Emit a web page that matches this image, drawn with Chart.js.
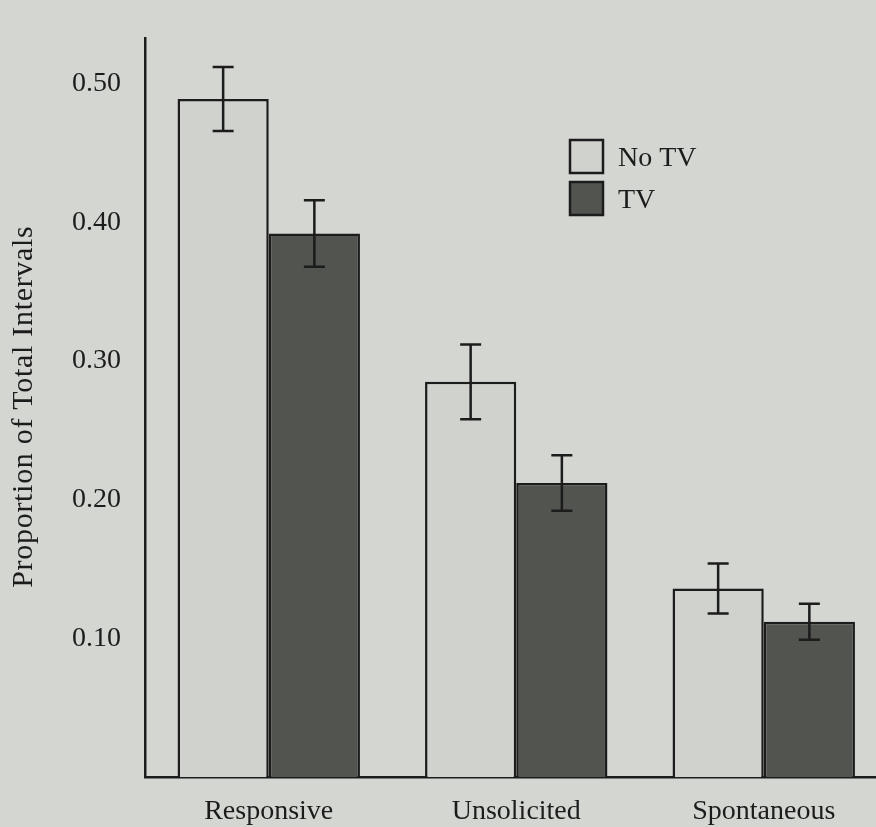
<!DOCTYPE html>
<html>
<head>
<meta charset="utf-8">
<script src="https://cdn.jsdelivr.net/npm/chart.js@4/dist/chart.umd.min.js"></script>
<style>
  html, body { margin: 0; padding: 0; background: #d4d6d2; }
  #wrap { width: 876px; height: 827px; overflow: hidden; position: relative; }
  #chart { display: block; }
</style>
</head>
<body>
<div id="wrap"><canvas id="chart" width="890" height="827"></canvas></div>
<script>
// Proportion of total intervals by utterance type, with and without TV
const categories = ['Responsive', 'Unsolicited', 'Spontaneous'];
const seriesNames = ['No TV', 'TV'];
const noTvValues = [0.489, 0.285, 0.136];
const tvValues = [0.392, 0.212, 0.112];
const noTvErrors = [0.023, 0.027, 0.018];
const tvErrors = [0.024, 0.020, 0.013];
const yTickValues = [0.10, 0.20, 0.30, 0.40, 0.50];
const yTitle = 'Proportion of Total Intervals';
const yMax = 0.533;

const BG = '#d4d6d2';
const INK = '#1c1c1c';
const SERIF = '"Liberation Serif", "DejaVu Serif", serif';

// Draws the page background inside the canvas
const backgroundPlugin = {
  id: 'bg',
  beforeDraw(chart) {
    const { ctx, width, height } = chart;
    ctx.save();
    ctx.fillStyle = BG;
    ctx.fillRect(0, 0, width, height);
    ctx.restore();
  }
};

// Capped error bars centred on each bar, from the error arrays
const errorBarPlugin = {
  id: 'errorBars',
  afterDatasetsDraw(chart) {
    const { ctx } = chart;
    const y = chart.scales.y;
    ctx.save();
    ctx.strokeStyle = INK;
    ctx.lineWidth = 2.5;
    chart.data.datasets.forEach((ds, di) => {
      const meta = chart.getDatasetMeta(di);
      meta.data.forEach((bar, i) => {
        const v = ds.data[i];
        const e = ds.errors[i];
        const top = y.getPixelForValue(v + e);
        const bot = y.getPixelForValue(v - e);
        const half = 10.5;
        ctx.beginPath();
        ctx.moveTo(bar.x, top); ctx.lineTo(bar.x, bot);
        ctx.moveTo(bar.x - half, top); ctx.lineTo(bar.x + half, top);
        ctx.moveTo(bar.x - half, bot); ctx.lineTo(bar.x + half, bot);
        ctx.stroke();
      });
    });
    ctx.restore();
  }
};

// Boxed legend placed inside the plot area
const boxLegendPlugin = {
  id: 'boxLegend',
  afterDraw(chart, args, opts) {
    const { ctx } = chart;
    ctx.save();
    ctx.font = '28px ' + SERIF;
    ctx.textBaseline = 'alphabetic';
    chart.data.datasets.forEach((ds, i) => {
      const bx = opts.x, by = opts.y + i * opts.rowGap;
      ctx.fillStyle = ds.backgroundColor;
      ctx.fillRect(bx, by, opts.box, opts.box);
      ctx.strokeStyle = INK;
      ctx.lineWidth = 2.5;
      ctx.strokeRect(bx, by, opts.box, opts.box);
      ctx.fillStyle = INK;
      ctx.fillText(ds.label, bx + opts.box + 15, by + opts.box - 7);
    });
    ctx.restore();
  }
};

// Rotated value-axis title
const axisTitlePlugin = {
  id: 'axisTitle',
  afterDraw(chart, args, opts) {
    const { ctx } = chart;
    ctx.save();
    ctx.font = opts.size + 'px ' + SERIF;
    if ('letterSpacing' in ctx) ctx.letterSpacing = opts.spacing + 'px';
    ctx.fillStyle = INK;
    ctx.textAlign = 'left';
    ctx.textBaseline = 'alphabetic';
    const w = ctx.measureText(opts.text).width - opts.spacing;
    ctx.translate(opts.x, opts.centerY);
    ctx.rotate(-Math.PI / 2);
    ctx.fillText(opts.text, -w / 2, 0);
    ctx.restore();
  }
};

new Chart(document.getElementById('chart'), {
  type: 'bar',
  data: {
    labels: categories,
    datasets: [
      {
        label: seriesNames[0],
        data: noTvValues,
        errors: noTvErrors,
        backgroundColor: '#d0d2ce',
        borderColor: INK,
        borderWidth: 2.5
      },
      {
        label: seriesNames[1],
        data: tvValues,
        errors: tvErrors,
        backgroundColor: '#525450',
        borderColor: INK,
        borderWidth: 2.5
      }
    ]
  },
  options: {
    responsive: false,
    animation: false,
    events: [],
    layout: { padding: { top: 15, left: 0, right: 2.5, bottom: 0 } },
    datasets: {
      bar: { categoryPercentage: 0.737, barPercentage: 1.0 }
    },
    plugins: {
      legend: { display: false },
      tooltip: { enabled: false },
      boxLegend: { x: 570, y: 140, box: 33, rowGap: 42 },
      axisTitle: { text: yTitle, size: 30, spacing: 0.7, x: 32, centerY: 407 }
    },
    scales: {
      x: {
        grid: { display: false, drawTicks: false },
        border: { display: true, color: INK, width: 2.5 },
        ticks: {
          color: INK,
          font: { family: SERIF, size: 28 },
          padding: 18,
          maxRotation: 0
        },
        afterFit(scale) { scale.height = 50; }
      },
      y: {
        min: 0,
        max: yMax,
        grid: { display: false, drawTicks: false },
        border: { display: true, color: INK, width: 2.5 },
        afterBuildTicks(scale) {
          scale.ticks = yTickValues.map(v => ({ value: v }));
        },
        ticks: {
          color: INK,
          font: { family: SERIF, size: 28, lineHeight: 1.0 },
          padding: 24,
          callback: (v) => Number(v).toFixed(2)
        },
        afterFit(scale) { scale.width = 145; }
      }
    }
  },
  plugins: [backgroundPlugin, errorBarPlugin, boxLegendPlugin, axisTitlePlugin]
});
</script>
</body>
</html>
